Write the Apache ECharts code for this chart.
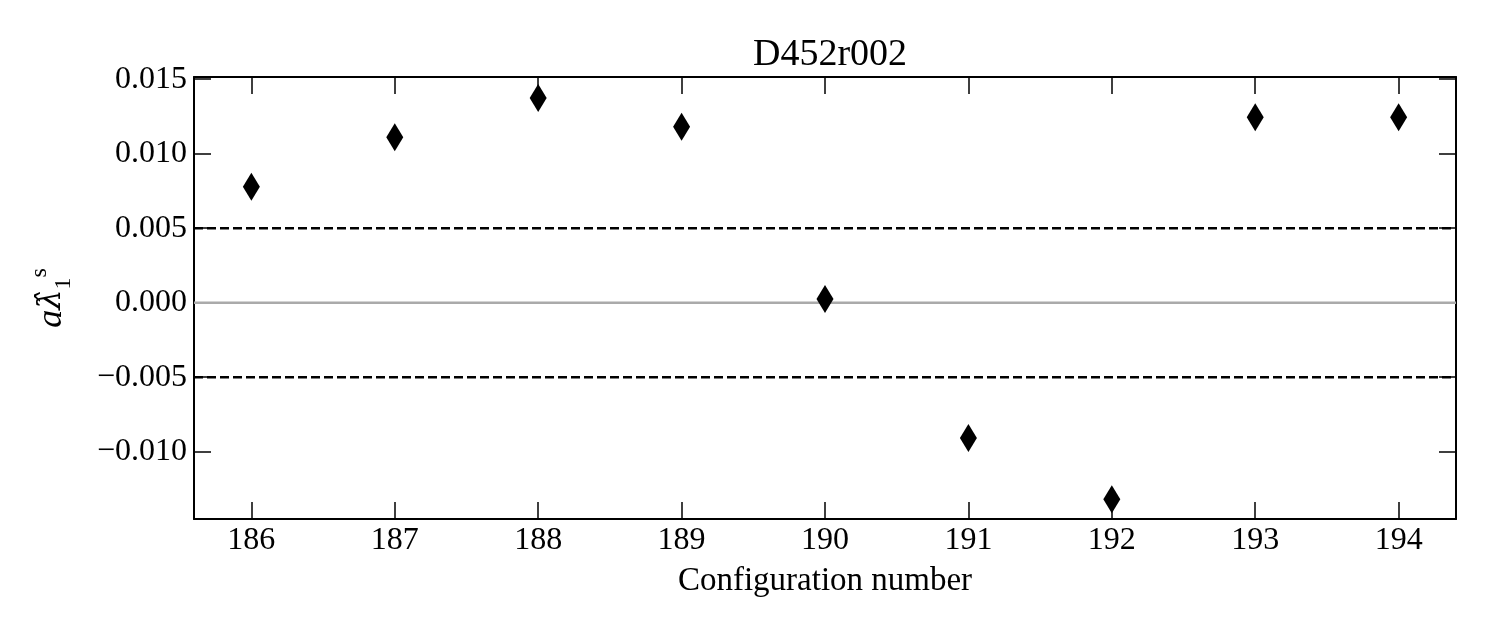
<!DOCTYPE html>
<html>
<head>
<meta charset="utf-8">
<script src="https://cdn.jsdelivr.net/npm/echarts@6/dist/echarts.min.js"></script>
<style>
  html, body { margin: 0; padding: 0; background: #fff; }
  #chart { width: 1494px; height: 633px; }
</style>
</head>
<body>
<div id="chart"></div>
<script>
// configuration numbers and measured values of a*lambda_1^s
const configs = [186, 187, 188, 189, 190, 191, 192, 193, 194]
const values = [0.00779, 0.01110, 0.01374, 0.01181, 0.00025, -0.00908, -0.01319, 0.01244, 0.01244]
const xTicks = [186, 187, 188, 189, 190, 191, 192, 193, 194]
const yTicks = [-0.010, -0.005, 0.000, 0.005, 0.010, 0.015]
const bandLines = [-0.005, 0.005]
const zeroLine = [0]

const X_MIN = 185.6
const X_MAX = 194.4
const Y_MIN = -0.01452
const Y_MAX = 0.01515

const FONT = '"Liberation Serif", "DejaVu Serif", serif'
const chart = echarts.init(document.getElementById('chart'), null, { renderer: 'canvas' })

function fmtY(v) {
  const s = Math.abs(v).toFixed(3)
  return v < -1e-9 ? '\u2212' + s : s
}

const tickStyle = { show: true, inside: true, length: 17, lineStyle: { color: '#000', width: 1.5 } }
const lineStyle = { show: true, onZero: false, lineStyle: { color: '#000', width: 2 } }

function hLine(v, style) {
  return {
    type: 'line',
    data: [[X_MIN, v], [X_MAX, v]],
    showSymbol: false,
    symbol: 'none',
    silent: true,
    lineStyle: style,
    z: 1,
  }
}

chart.setOption({
  animation: false,
  backgroundColor: '#fff',
  title: {
    text: 'D452r002',
    left: 825,
    textAlign: 'center',
    top: 31,
    textStyle: { fontFamily: FONT, fontWeight: 'normal', fontSize: 38, color: '#000' },
  },
  grid: { left: 194, right: 38, top: 77, bottom: 114 },
  xAxis: [
    {
      type: 'value',
      min: X_MIN,
      max: X_MAX,
      name: 'Configuration number',
      nameLocation: 'middle',
      nameGap: 46,
      nameTextStyle: { fontFamily: FONT, fontSize: 33, color: '#000' },
      axisLine: lineStyle,
      axisTick: { ...tickStyle, customValues: xTicks },
      axisLabel: { customValues: xTicks, fontFamily: FONT, fontSize: 32, color: '#000', margin: 6 },
      splitLine: { show: false },
    },
    {
      type: 'value',
      position: 'top',
      min: X_MIN,
      max: X_MAX,
      axisLine: lineStyle,
      axisTick: { ...tickStyle, customValues: xTicks },
      axisLabel: { show: false },
      splitLine: { show: false },
    },
  ],
  yAxis: [
    {
      type: 'value',
      min: Y_MIN,
      max: Y_MAX,
      name: '{a|a}{l|λ̂}{sub|1}{sup|s}',
      nameLocation: 'middle',
      nameRotate: 90,
      nameGap: 118,
      nameTextStyle: {
        rich: {
          a: { fontFamily: FONT, fontStyle: 'italic', fontSize: 36, color: '#000', lineHeight: 48, verticalAlign: 'middle' },
          l: { fontFamily: '"DejaVu Serif", serif', fontStyle: 'italic', fontSize: 32, color: '#000', lineHeight: 48, verticalAlign: 'middle' },
          sub: { fontFamily: FONT, fontSize: 24, color: '#000', verticalAlign: 'bottom', lineHeight: 48 },
          sup: { fontFamily: FONT, fontSize: 24, color: '#000', verticalAlign: 'top', lineHeight: 48 },
        },
      },
      axisLine: lineStyle,
      axisTick: { ...tickStyle, customValues: yTicks },
      axisLabel: { customValues: yTicks, formatter: fmtY, fontFamily: FONT, fontSize: 32, color: '#000', margin: 7 },
      splitLine: { show: false },
    },
    {
      type: 'value',
      position: 'right',
      min: Y_MIN,
      max: Y_MAX,
      axisLine: lineStyle,
      axisTick: { ...tickStyle, customValues: yTicks },
      axisLabel: { show: false },
      splitLine: { show: false },
    },
  ],
  series: [
    ...zeroLine.map(v => hLine(v, { color: '#aaaaaa', width: 2.5, type: 'solid' })),
    ...bandLines.map(v => hLine(v, { color: '#000', width: 2.5, type: [9, 4] })),
    {
      type: 'scatter',
      data: configs.map((c, i) => [c, values[i]]),
      symbol: 'path://M1,0L2,1L1,2L0,1Z',
      symbolSize: [17, 28],
      itemStyle: { color: '#000', opacity: 1 },
      z: 5,
    },
  ],
})
</script>
</body>
</html>
